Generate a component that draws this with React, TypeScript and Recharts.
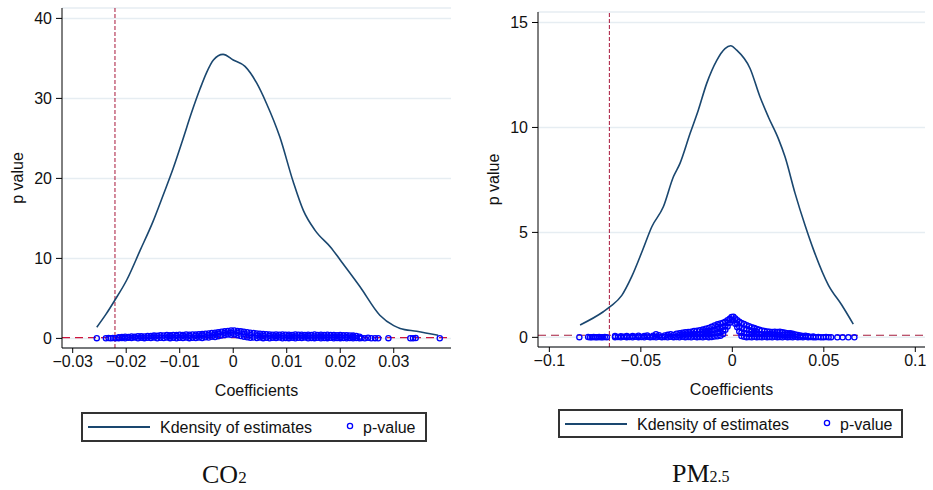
import { ComposedChart, Line, Scatter, XAxis, YAxis, CartesianGrid, ReferenceLine, Legend } from 'recharts'

const FONT = '"Liberation Sans", Arial, sans-serif'
const SERIF = '"Liberation Serif", "Times New Roman", serif'
const NAVY = '#1a476f'
const BLUE = '#0000ff'

// ---- CO2 panel ----
const co2XTicks = [-0.03, -0.02, -0.01, 0, 0.01, 0.02, 0.03]
const co2YTicks = [0, 10, 20, 30, 40]
const co2Cutoff = -0.0221

// kernel density of the estimates: [coefficient, density]
const co2Density = [
  [-0.0255, 1.4], [-0.0238, 3.0], [-0.0221, 4.8], [-0.0199, 7.3], [-0.0174, 11.0], [-0.015, 14.6],
  [-0.0131, 17.9], [-0.0112, 21.3], [-0.0094, 24.9], [-0.0078, 28.2], [-0.0062, 31.2], [-0.005, 33.2],
  [-0.0037, 34.8], [-0.0019, 35.5], [0, 34.8], [0.0022, 34.0], [0.0044, 31.9], [0.0062, 29.4],
  [0.0087, 25.2], [0.0112, 19.6], [0.0131, 16.0], [0.0153, 13.5], [0.0184, 11.25], [0.02, 9.8],
  [0.0237, 6.45], [0.0274, 2.9], [0.03, 1.6], [0.0312, 1.25], [0.0343, 0.9], [0.0383, 0.4],
]

// p-values: [coefficient, [p, p, ...]]
const co2PValues: [number, number[]][] = [
  [-0.0255, [0.03]], [-0.0238, [0.01]], [-0.0233, [0.04]], [-0.0229, [0.02]], [-0.0225, [0.05]], [-0.022, [0.03]],
  [-0.0214, [0.03, 0.14]], [-0.0208, [0.06, 0.17]], [-0.0202, [0.02, 0.2]], [-0.0196, [0.08, 0.18]],
  [-0.019, [0.04, 0.23]], [-0.0184, [0.1, 0.21]], [-0.0178, [0.02, 0.26]], [-0.0172, [0.07, 0.28]],
  [-0.0166, [0.03, 0.25]], [-0.016, [0.09, 0.31]], [-0.0154, [0.05, 0.29]], [-0.0148, [0.12, 0.35]],
  [-0.0142, [0.02, 0.32]], [-0.0136, [0.08, 0.38]], [-0.013, [0.04, 0.36]], [-0.0124, [0.1, 0.41]],
  [-0.0118, [0.03, 0.28, 0.39]], [-0.0112, [0.07, 0.44]], [-0.0106, [0.02, 0.3, 0.42]], [-0.01, [0.09, 0.46]],
  [-0.0094, [0.05, 0.32, 0.44]], [-0.0088, [0.11, 0.48]], [-0.0082, [0.03, 0.3, 0.46]], [-0.0076, [0.08, 0.5]],
  [-0.007, [0.04, 0.34, 0.49]], [-0.0064, [0.12, 0.53]], [-0.0058, [0.06, 0.36, 0.55]], [-0.0052, [0.14, 0.58]],
  [-0.0046, [0.1, 0.4, 0.62]], [-0.004, [0.2, 0.67]], [-0.0034, [0.16, 0.46, 0.72]], [-0.0028, [0.28, 0.58, 0.78]],
  [-0.0022, [0.36, 0.84]], [-0.0016, [0.42, 0.66, 0.88]], [-0.001, [0.5, 0.93]], [-0.0004, [0.46, 0.72, 0.98]],
  [0.0002, [0.5, 0.99]], [0.0008, [0.4, 0.7, 0.94]], [0.0014, [0.3, 0.88]], [0.002, [0.22, 0.56, 0.83]],
  [0.0026, [0.14, 0.78]], [0.0032, [0.08, 0.44, 0.72]], [0.0038, [0.12, 0.67]], [0.0044, [0.05, 0.36, 0.62]],
  [0.005, [0.1, 0.58]], [0.0056, [0.03, 0.3, 0.55]], [0.0062, [0.08, 0.52]], [0.0068, [0.02, 0.3, 0.5]],
  [0.0074, [0.07, 0.47]], [0.008, [0.04, 0.28, 0.49]], [0.0086, [0.1, 0.46]], [0.0092, [0.02, 0.27, 0.48]],
  [0.0098, [0.06, 0.45]], [0.0104, [0.03, 0.26, 0.47]], [0.011, [0.09, 0.44]], [0.0116, [0.02, 0.25, 0.48]],
  [0.0122, [0.07, 0.45]], [0.0128, [0.04, 0.27, 0.47]], [0.0134, [0.1, 0.44]], [0.014, [0.02, 0.26, 0.46]],
  [0.0146, [0.06, 0.43]], [0.0152, [0.03, 0.25, 0.5]], [0.0158, [0.08, 0.44]], [0.0164, [0.02, 0.24, 0.46]],
  [0.017, [0.05, 0.42]], [0.0176, [0.03, 0.22, 0.47]], [0.0182, [0.07, 0.43]], [0.0188, [0.02, 0.21, 0.44]],
  [0.0194, [0.05, 0.4]], [0.02, [0.03, 0.2, 0.42]], [0.0206, [0.06, 0.38]], [0.0212, [0.02, 0.18, 0.4]],
  [0.0218, [0.04, 0.36]], [0.0224, [0.02, 0.16, 0.35]], [0.023, [0.05, 0.3]], [0.0236, [0.02, 0.22]],
  [0.024, [0.04]], [0.0246, [0.02]], [0.0252, [0.08]], [0.0258, [0.01]], [0.0265, [0.03]], [0.0271, [0.02]],
  [0.029, [0.03]], [0.0331, [0.01]], [0.0336, [0.02]], [0.0341, [0.04]], [0.0386, [0.01]],
]

// ---- PM2.5 panel ----
const pmXTicks = [-0.1, -0.05, 0, 0.05, 0.1]
const pmYTicks = [0, 5, 10, 15]
const pmCutoff = -0.0672

const pmDensity = [
  [-0.0832, 0.59], [-0.0705, 1.22], [-0.0668, 1.46], [-0.0604, 2.0], [-0.055, 2.89], [-0.049, 4.16],
  [-0.044, 5.27], [-0.0377, 6.22], [-0.0322, 7.65], [-0.0286, 8.29], [-0.0231, 9.71], [-0.0186, 10.82],
  [-0.014, 12.1], [-0.0085, 13.2], [-0.004, 13.76], [-0.0009, 13.89], [0.0024, 13.68], [0.0097, 12.81],
  [0.0151, 11.46], [0.0197, 10.5], [0.0251, 9.48], [0.0288, 8.6], [0.0343, 6.86], [0.0397, 5.35],
  [0.0443, 4.19], [0.0525, 2.49], [0.0598, 1.54], [0.0661, 0.63],
]

const pmPValues: [number, number[]][] = [
  [-0.0836, [0.01]], [-0.0788, [0.02]], [-0.0778, [0.0]], [-0.0768, [0.01]], [-0.0758, [0.02]],
  [-0.0748, [0.0]], [-0.0738, [0.01]], [-0.0728, [0.02]], [-0.0718, [0.0]], [-0.0708, [0.01]],
  [-0.0697, [0.02]], [-0.0686, [0.01]],
  [-0.0641, [0.01, 0.06]], [-0.0625, [0.02]], [-0.0609, [0.0, 0.05]], [-0.0593, [0.03]], [-0.0577, [0.01, 0.07]],
  [-0.0561, [0.02]], [-0.0545, [0.0, 0.06]], [-0.0529, [0.03]], [-0.0513, [0.01, 0.08]], [-0.0497, [0.02]],
  [-0.0481, [0.0, 0.06]], [-0.0465, [0.03, 0.09]], [-0.0449, [0.01]], [-0.0433, [0.02, 0.08]], [-0.0417, [0.0, 0.15]],
  [-0.0401, [0.03, 0.1]], [-0.0385, [0.01]], [-0.0369, [0.02, 0.09]], [-0.0353, [0.0, 0.12]], [-0.0337, [0.03, 0.15]],
  [-0.0321, [0.01, 0.11]], [-0.0305, [0.02, 0.17]], [-0.0289, [0.0, 0.1, 0.2]], [-0.0273, [0.03, 0.14, 0.22]],
  [-0.0257, [0.01, 0.12, 0.24]], [-0.0241, [0.02, 0.15, 0.26]], [-0.0225, [0.0, 0.13, 0.27]], [-0.0209, [0.03, 0.16, 0.3]],
  [-0.0193, [0.01, 0.14, 0.32]], [-0.0177, [0.02, 0.17, 0.34]], [-0.0161, [0.0, 0.13, 0.26, 0.37]],
  [-0.0145, [0.03, 0.16, 0.29, 0.41]], [-0.0129, [0.01, 0.14, 0.3, 0.45]], [-0.0113, [0.02, 0.17, 0.33, 0.5]],
  [-0.0097, [0.04, 0.18, 0.36, 0.57]], [-0.0081, [0.05, 0.2, 0.4, 0.5, 0.62]], [-0.0065, [0.08, 0.24, 0.44, 0.66]],
  [-0.005, [0.16, 0.32, 0.5, 0.7]], [-0.0038, [0.36, 0.54, 0.74]], [-0.0026, [0.52, 0.68, 0.82]],
  [-0.0014, [0.7, 0.88]], [-0.0004, [0.83, 0.97]], [0.0006, [0.8, 0.98]], [0.0016, [0.65, 0.9]],
  [0.0027, [0.48, 0.66, 0.82]], [0.0038, [0.28, 0.5, 0.74]], [0.005, [0.06, 0.22, 0.45, 0.68]],
  [0.0064, [0.03, 0.2, 0.4, 0.64]], [0.0078, [0.01, 0.18, 0.38, 0.58]], [0.0092, [0.02, 0.16, 0.34, 0.53]],
  [0.0106, [0.0, 0.15, 0.31, 0.48]], [0.012, [0.03, 0.17, 0.3, 0.44]], [0.0134, [0.01, 0.14, 0.27, 0.4]],
  [0.0148, [0.02, 0.16, 0.36]], [0.0162, [0.0, 0.13, 0.33]], [0.0176, [0.03, 0.15, 0.3]], [0.019, [0.01, 0.14, 0.28]],
  [0.0204, [0.02, 0.16, 0.27]], [0.0218, [0.0, 0.13, 0.26]], [0.0232, [0.03, 0.15, 0.27]], [0.0246, [0.01, 0.12, 0.25]],
  [0.026, [0.02, 0.14, 0.27]], [0.0274, [0.0, 0.11, 0.24]], [0.0288, [0.03, 0.13, 0.22]], [0.0302, [0.01, 0.1, 0.2]],
  [0.0316, [0.02, 0.12, 0.19]], [0.033, [0.0, 0.09, 0.17]], [0.0344, [0.03, 0.14]], [0.0358, [0.01, 0.11]],
  [0.0372, [0.02, 0.09]], [0.0386, [0.0, 0.07]], [0.04, [0.03, 0.08]], [0.0414, [0.01, 0.05]], [0.0428, [0.02]],
  [0.0442, [0.0, 0.04]], [0.0456, [0.01]], [0.047, [0.02]], [0.0484, [0.0]], [0.0498, [0.01]], [0.0512, [0.02]],
  [0.0526, [0.0]], [0.054, [0.01]], [0.0574, [0.0]], [0.0603, [0.0]], [0.0634, [0.0]], [0.0667, [0.0]],
]

const toXY = (pairs: number[][]) => pairs.map(([x, y]) => ({ x, y }))
const columnsToXY = (cols: [number, number[]][]) => cols.flatMap(([x, ps]) => ps.map((y) => ({ x, y })))

function fmtTick(v: number) {
  if (v === 0) return '0'
  return v < 0 ? '\u2212' + Math.abs(v) : String(v)
}

const HollowDot = (props: any) => (
  <circle cx={props.cx} cy={props.cy} r={2.6} fill="none" stroke={BLUE} strokeWidth={1.3} />
)

const LegendBox = ({ width, height }: { width: number; height: number }) => (
  <svg width={width} height={height} style={{ display: 'block' }}>
    <rect x={1} y={1} width={width - 2} height={height - 2} fill="#fff" stroke="#333" strokeWidth={2} />
    <line x1={7} x2={69} y1={15} y2={15} stroke={NAVY} strokeWidth={2} />
    <text x={79} y={20.5} fontSize={16} fontFamily={FONT} fill="#111">Kdensity of estimates</text>
    <circle cx={269} cy={14} r={2.6} fill="none" stroke={BLUE} strokeWidth={1.3} />
    <text x={282} y={20.5} fontSize={16} fontFamily={FONT} fill="#111">p-value</text>
  </svg>
)

const YTitle = (props: any) => {
  const vb = props.viewBox
  const cx = vb.x + 5
  const cy = vb.y + vb.height / 2
  return (
    <text x={cx} y={cy} dy="0.35em" textAnchor="middle" transform={`rotate(-90 ${cx} ${cy})`}
      fontSize={16} fontFamily={FONT} fill="#111">p value</text>
  )
}

const XTitle = (props: any) => {
  const vb = props.viewBox
  return (
    <text x={vb.x + vb.width / 2} y={vb.y + 48} textAnchor="middle" fontSize={16} fontFamily={FONT} fill="#111">
      Coefficients
    </text>
  )
}

function Panel(props: any) {
  const { left, width, margin, xDomain, xTicks, yDomain, yTicks, density, pvalues, cutoff, hColor, legend } = props
  const tick = { fill: '#111', fontSize: 16, fontFamily: FONT }
  return (
    <div style={{ position: 'absolute', left, top: 0 }}>
      <ComposedChart width={width} height={450} margin={margin}>
        <CartesianGrid vertical={false} stroke="#e6edf2" strokeWidth={1.5} />
        <XAxis type="number" dataKey="x" domain={xDomain} ticks={xTicks} interval={0} allowDataOverflow
          tickFormatter={fmtTick} height={102} tickSize={5} tickMargin={3} stroke="#000" tick={tick}
          label={XTitle} />
        <YAxis type="number" dataKey="y" domain={yDomain} ticks={yTicks} interval={0} allowDataOverflow
          width={50} tickSize={6} tickMargin={4} stroke="#000" tick={tick} label={YTitle} />
        <ReferenceLine x={cutoff} stroke="#a8163a" strokeDasharray="4 2" strokeWidth={1} />
        <ReferenceLine y={0.1} stroke={hColor} strokeDasharray="8 5" strokeWidth={1.2} />
        <Line data={density} dataKey="y" type="monotone" stroke={NAVY} strokeWidth={1.6} dot={false}
          isAnimationActive={false} />
        <Scatter data={pvalues} shape={HollowDot} isAnimationActive={false} />
        <Legend verticalAlign="middle" align="center" layout="horizontal"
          wrapperStyle={{ left: legend.left, top: legend.top, width: legend.width, height: legend.height }}
          content={() => <LegendBox width={legend.width} height={legend.height} />} />
      </ComposedChart>
    </div>
  )
}

const captionStyle = {
  position: 'absolute' as const,
  fontFamily: SERIF,
  fontSize: 26,
  lineHeight: '30px',
  color: '#111',
  whiteSpace: 'nowrap' as const,
}

export default function App() {
  return (
    <div style={{ position: 'absolute', left: 0, top: 0, width: 933, height: 490, background: '#fff', overflow: 'hidden' }}>
      <Panel
        left={0}
        width={460}
        margin={{ top: 8, right: 9, bottom: 0, left: 12 }}
        xDomain={[-0.032, 0.0407]}
        xTicks={co2XTicks}
        yDomain={[-1.2, 41.3]}
        yTicks={co2YTicks}
        density={toXY(co2Density)}
        pvalues={columnsToXY(co2PValues)}
        cutoff={co2Cutoff}
        hColor="#d0143c"
        legend={{ left: 81, top: 412, width: 346, height: 30 }}
      />
      <Panel
        left={470}
        width={463}
        margin={{ top: 12, right: 8, bottom: 1, left: 18 }}
        xDomain={[-0.1062, 0.1053]}
        xTicks={pmXTicks}
        yDomain={[-0.46, 15.5]}
        yTicks={pmYTicks}
        density={toXY(pmDensity)}
        pvalues={columnsToXY(pmPValues)}
        cutoff={pmCutoff}
        hColor="#a51d3e"
        legend={{ left: 88, top: 409, width: 345, height: 29 }}
      />
      <div style={{ ...captionStyle, left: 202, top: 460 }}>
        CO<span style={{ fontSize: 17 }}>2</span>
      </div>
      <div style={{ ...captionStyle, left: 672, top: 459 }}>
        PM<span style={{ fontSize: 16 }}>2.5</span>
      </div>
    </div>
  )
}
